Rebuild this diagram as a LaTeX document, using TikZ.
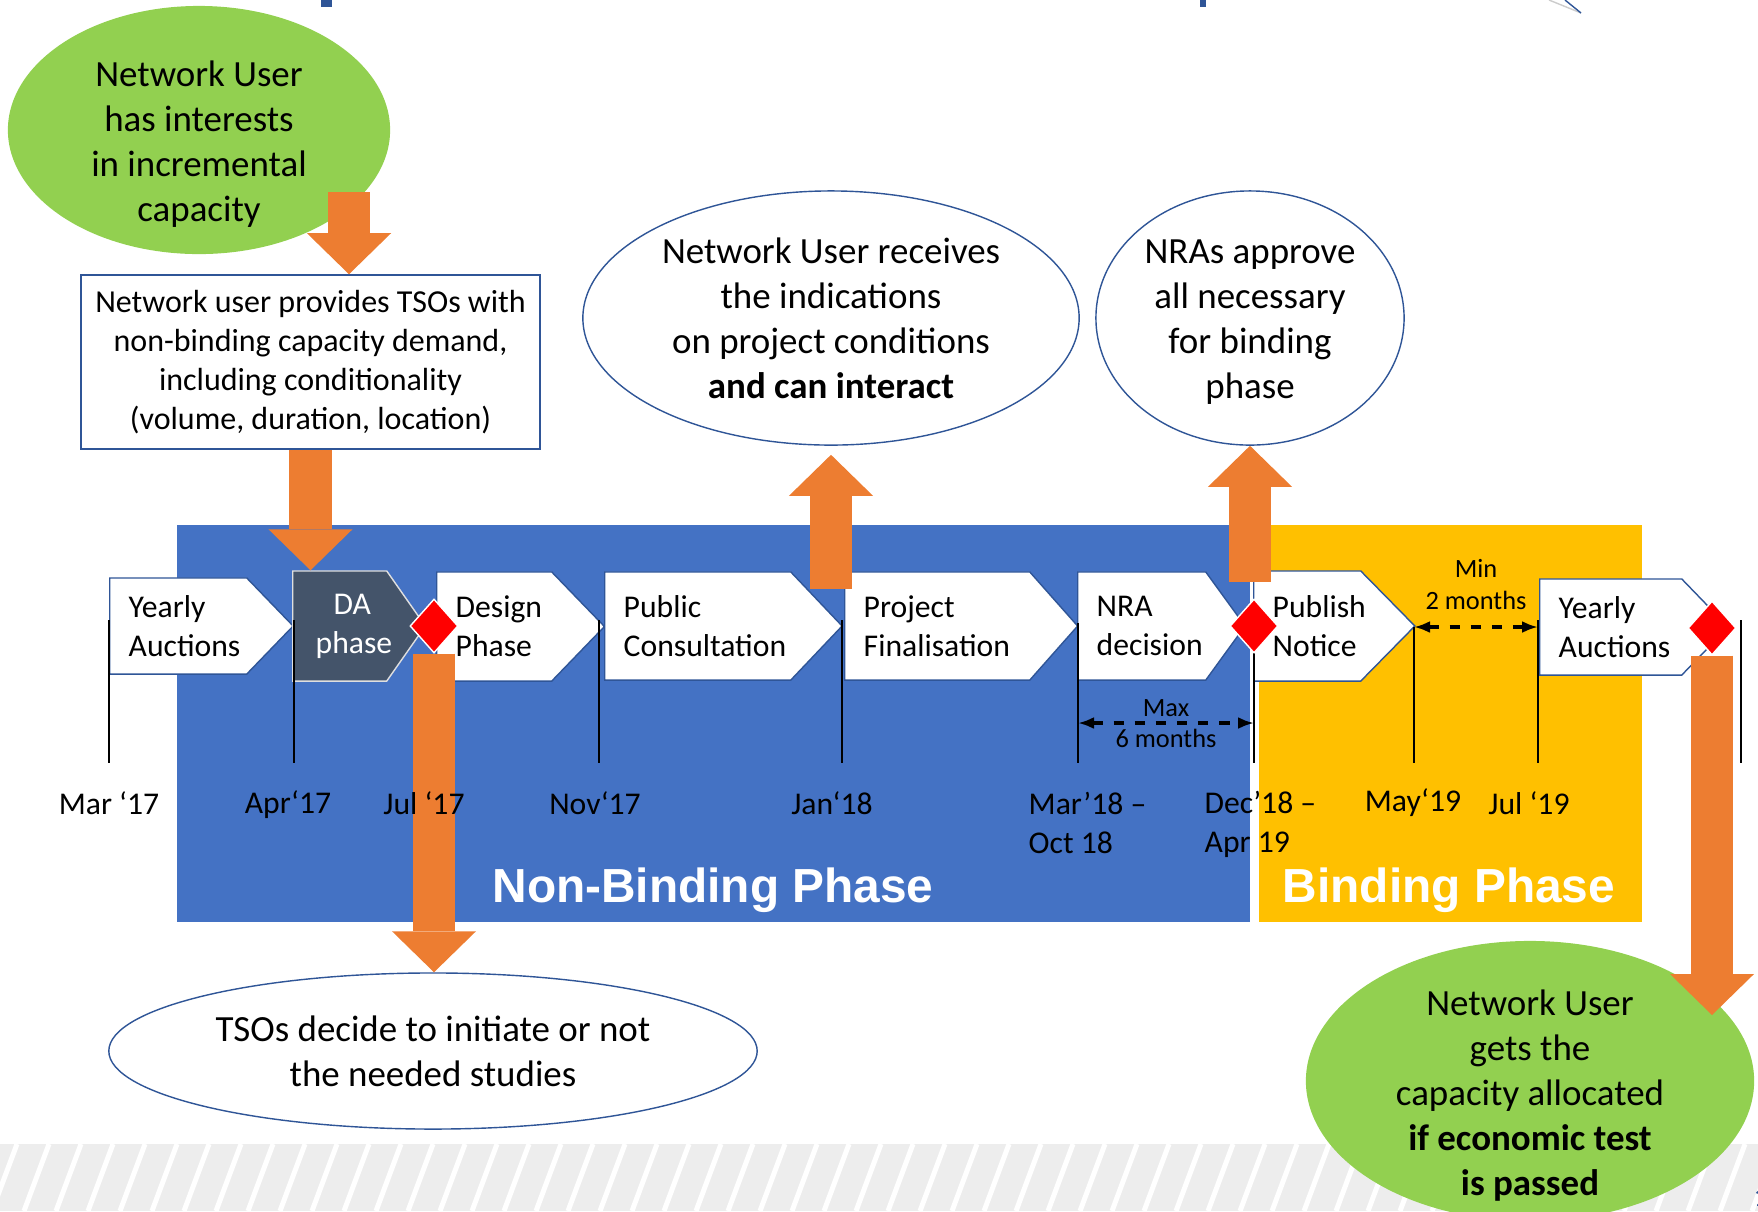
\documentclass[tikz,border=0pt]{standalone}
\usepackage{fontspec}
\setmainfont{Carlito}
\newfontfamily\phasefont{Liberation Sans}
\usetikzlibrary{shapes.geometric,shapes.symbols,arrows.meta}

\definecolor{slideblue}{HTML}{4472C4}
\definecolor{slideyellow}{HTML}{FFC000}
\definecolor{slideorange}{HTML}{ED7D31}
\definecolor{slidegreen}{HTML}{92D050}
\definecolor{slidedark}{HTML}{44546A}
\definecolor{linkblue}{HTML}{2F5597}
\definecolor{stripegray}{HTML}{EDEDED}

\begin{document}
\begin{tikzpicture}
        [x=0.01cm, y=-0.01cm,
        stepbox/.style={signal, signal to=east, signal from=nowhere, draw=linkblue, fill=white, anchor=west,
            inner xsep=0.19cm, inner ysep=0pt, align=left, font=\fontsize{9}{11.1}\selectfont,
            execute at begin node={\hyphenpenalty=10000}},
        bubble/.style={ellipse, draw=linkblue, fill=white, inner sep=-0.1cm, align=center, font=\fontsize{10.5}{12.8}\selectfont},
        greenbubble/.style={bubble, draw=none, fill=slidegreen},
        gate/.style={diamond, fill=red, draw=white, inner sep=0pt, minimum width=0.48cm, minimum height=0.54cm},
        tick/.style={line width=0.6pt},
        date/.style={font=\fontsize{9}{11.1}\selectfont, align=left},
        span/.style={dashed, line width=0.9pt, {Latex[length=0.16cm]}-{Latex[length=0.16cm]}},
        spanlabel/.style={font=\fontsize{7.5}{9.1}\selectfont, inner sep=0.05cm},
        bigarrow/.style={draw=slideorange, line width=0.42cm, -{Triangle[width=0.84cm, length=0.41cm, line width=0pt]}},
        phase/.style={text=white, font=\phasefont\bfseries\fontsize{13.6}{16}\selectfont}]
        \useasboundingbox (0,0) rectangle (1758,1211);
        \clip (0,0) rectangle (1758,1211);

        % slide leftovers
        \fill[linkblue] (321,0) rectangle (332,7);
        \fill[linkblue] (1200,0) rectangle (1206,7);
        \draw[gray!40] (1549,0) -- (1581,13);
        \draw[linkblue] (1565,0) -- (1581,13);
        \begin{scope}
            \clip (0,1144) rectangle (1758,1211);
            \fill[stripegray] (0,1144) rectangle (1758,1211);
            \foreach \x in {-40,-8,...,1790}
                \draw[white, line width=0.05cm] (\x,1211) -- ++(25,-67);
        \end{scope}

        % phases
        \fill[slideblue] (177,525) rectangle (1250,922);
        \fill[slideyellow] (1259,525) rectangle (1642,922);

        % timeline steps
        \node[stepbox, minimum height=0.96cm, text width=0.99cm, signal pointer angle=92] (ya1) at (109,626) {Yearly\\Auctions};
        \node[stepbox, fill=slidedark, draw=white!75!gray, text=white, align=center, inner xsep=0.1cm,
            minimum height=1.10cm, text width=0.74cm, signal pointer angle=110] (da) at (292,626)
            {\hspace*{0.25cm}DA\\\hspace*{0.13cm}phase};
        \node[stepbox, minimum height=1.09cm, text width=0.77cm, signal pointer angle=92] (design) at (436,626.5) {Design\\Phase};
        \node[stepbox, minimum height=1.08cm, text width=1.48cm, signal pointer angle=93] (consult) at (604,626) {Public\\Consultation};
        \node[stepbox, minimum height=1.08cm, text width=1.47cm, signal pointer angle=97] (final) at (844,626) {Project\\Finalisation};
        \node[stepbox, minimum height=1.08cm, text width=0.90cm, signal pointer angle=108] (nradec) at (1077,626) {NRA\\decision};
        \node[stepbox, minimum height=1.10cm, text width=0.69cm, signal pointer angle=91] (publish) at (1253,626) {Publish\\Notice};
        \node[stepbox, minimum height=0.96cm, text width=1.04cm, signal pointer angle=92] (ya2) at (1539,627) {Yearly\\Auctions};

        \draw[tick] (109,620) -- (109,763);
        \draw[tick] (294,620) -- (294,763);
        \draw[tick] (599,620) -- (599,763);
        \draw[tick] (842,620) -- (842,763);
        \draw[tick] (1078,623) -- (1078,763);
        \draw[tick] (1254,653) -- (1254,763);
        \draw[tick] (1414,627) -- (1414,763);
        \draw[tick] (1538,620) -- (1538,763);
        \draw[tick] (1741,620) -- (1741,763);

        \coordinate (maxl) at (1078,723);
        \coordinate (maxr) at (1254,723);
        \draw[span] (maxl) -- node[above, spanlabel] (maxtop) {Max} node[below, spanlabel] (maxbot) {6 months} (maxr);
        \coordinate (minl) at (1414,627);
        \coordinate (minr) at (1538,627);
        \draw[span] (minl) -- node[above=0.105cm, spanlabel, align=center] (mintext) {Min\\2 months} (minr);

        \node[gate] (gate1) at (434,626) {};
        \node[gate] (gate2) at (1254,626) {};
        \node[gate] (gate3) at (1712,628) {};

        % bubbles
        \node[greenbubble, inner sep=-0.15cm, minimum width=3.82cm, minimum height=2.48cm] (interest) at (199,130)
            {\rule{0pt}{0.54cm}Network User\\has interests\\in incremental\\capacity};
        \node[draw=linkblue, fill=white, align=center, minimum width=4.59cm, minimum height=1.74cm,
            font=\fontsize{9.1}{11.1}\selectfont] (demand) at (310.5,362)
            {Network user provides TSOs with\\non-binding capacity demand,\\including conditionality\\(volume, duration, location)};
        \node[bubble, minimum width=4.96cm, minimum height=2.54cm] (receive) at (831,318)
            {Network User receives\\the indications\\on project conditions\\\textbf{and can interact}};
        \node[bubble, minimum width=3.08cm, minimum height=2.54cm] (approve) at (1250,318)
            {\rule{0pt}{0.31cm}NRAs approve\\all necessary\\for binding\\phase};
        \node[bubble, minimum width=6.48cm, minimum height=1.56cm] (studies) at (433,1051) {TSOs decide to initiate or not\\the needed studies};
        \node[greenbubble, inner sep=-0.25cm, minimum width=4.48cm, minimum height=2.8cm] (allocated) at (1530,1081)
            {\rule{0pt}{0.55cm}Network User\\gets the\\capacity allocated\\\textbf{if economic test}\\\textbf{is passed}};

        % orange arrows
        \coordinate (a1) at (349,192);
        \draw[bigarrow] (a1) -- (a1 |- demand.north);
        \draw[bigarrow] (demand.south) -- (demand.south |- da.north);
        \draw[bigarrow] (gate1.south) -- (gate1.south |- studies.north);
        \coordinate (a4) at (831,589);
        \draw[bigarrow, shorten >=0.09cm] (a4) -- (a4 |- receive.south);
        \coordinate (a5) at (1250,582);
        \draw[bigarrow] (a5) -- (a5 |- approve.south);
        \coordinate (a6) at (1712,1015);
        \draw[bigarrow] (gate3.south) -- (a6);

        % dates
        \node[date] (mar17) at (109,803) {Mar ‘17};
        \node[date] (apr17) at (288,805) {Apr‘17};
        \node[date] (jul17) at (424,803) {Jul ‘17};
        \node[date] (nov17) at (595,803) {Nov‘17};
        \node[date] (jan18) at (832,803) {Jan‘18};
        \node[date, anchor=west, inner xsep=0pt] (mar18) at (1028,823) {Mar’18 –\\Oct 18};
        \node[date, anchor=west, inner xsep=0pt] (dec18) at (1204,824) {Dec’18 –\\Apr 19};
        \node[date] (may19) at (1413,803) {May‘19};
        \node[date] (jul19) at (1529,803) {Jul ‘19};

        \node[phase] (nonbinding) at (713,890) {Non-Binding Phase};
        \node[phase] (binding) at (1449,890) {Binding Phase};

        \node[anchor=west, inner sep=0pt, text=linkblue, font=\fontsize{8}{9}\selectfont] (pagenum) at (1753,1197) {1};
    \end{tikzpicture}
\end{document}
